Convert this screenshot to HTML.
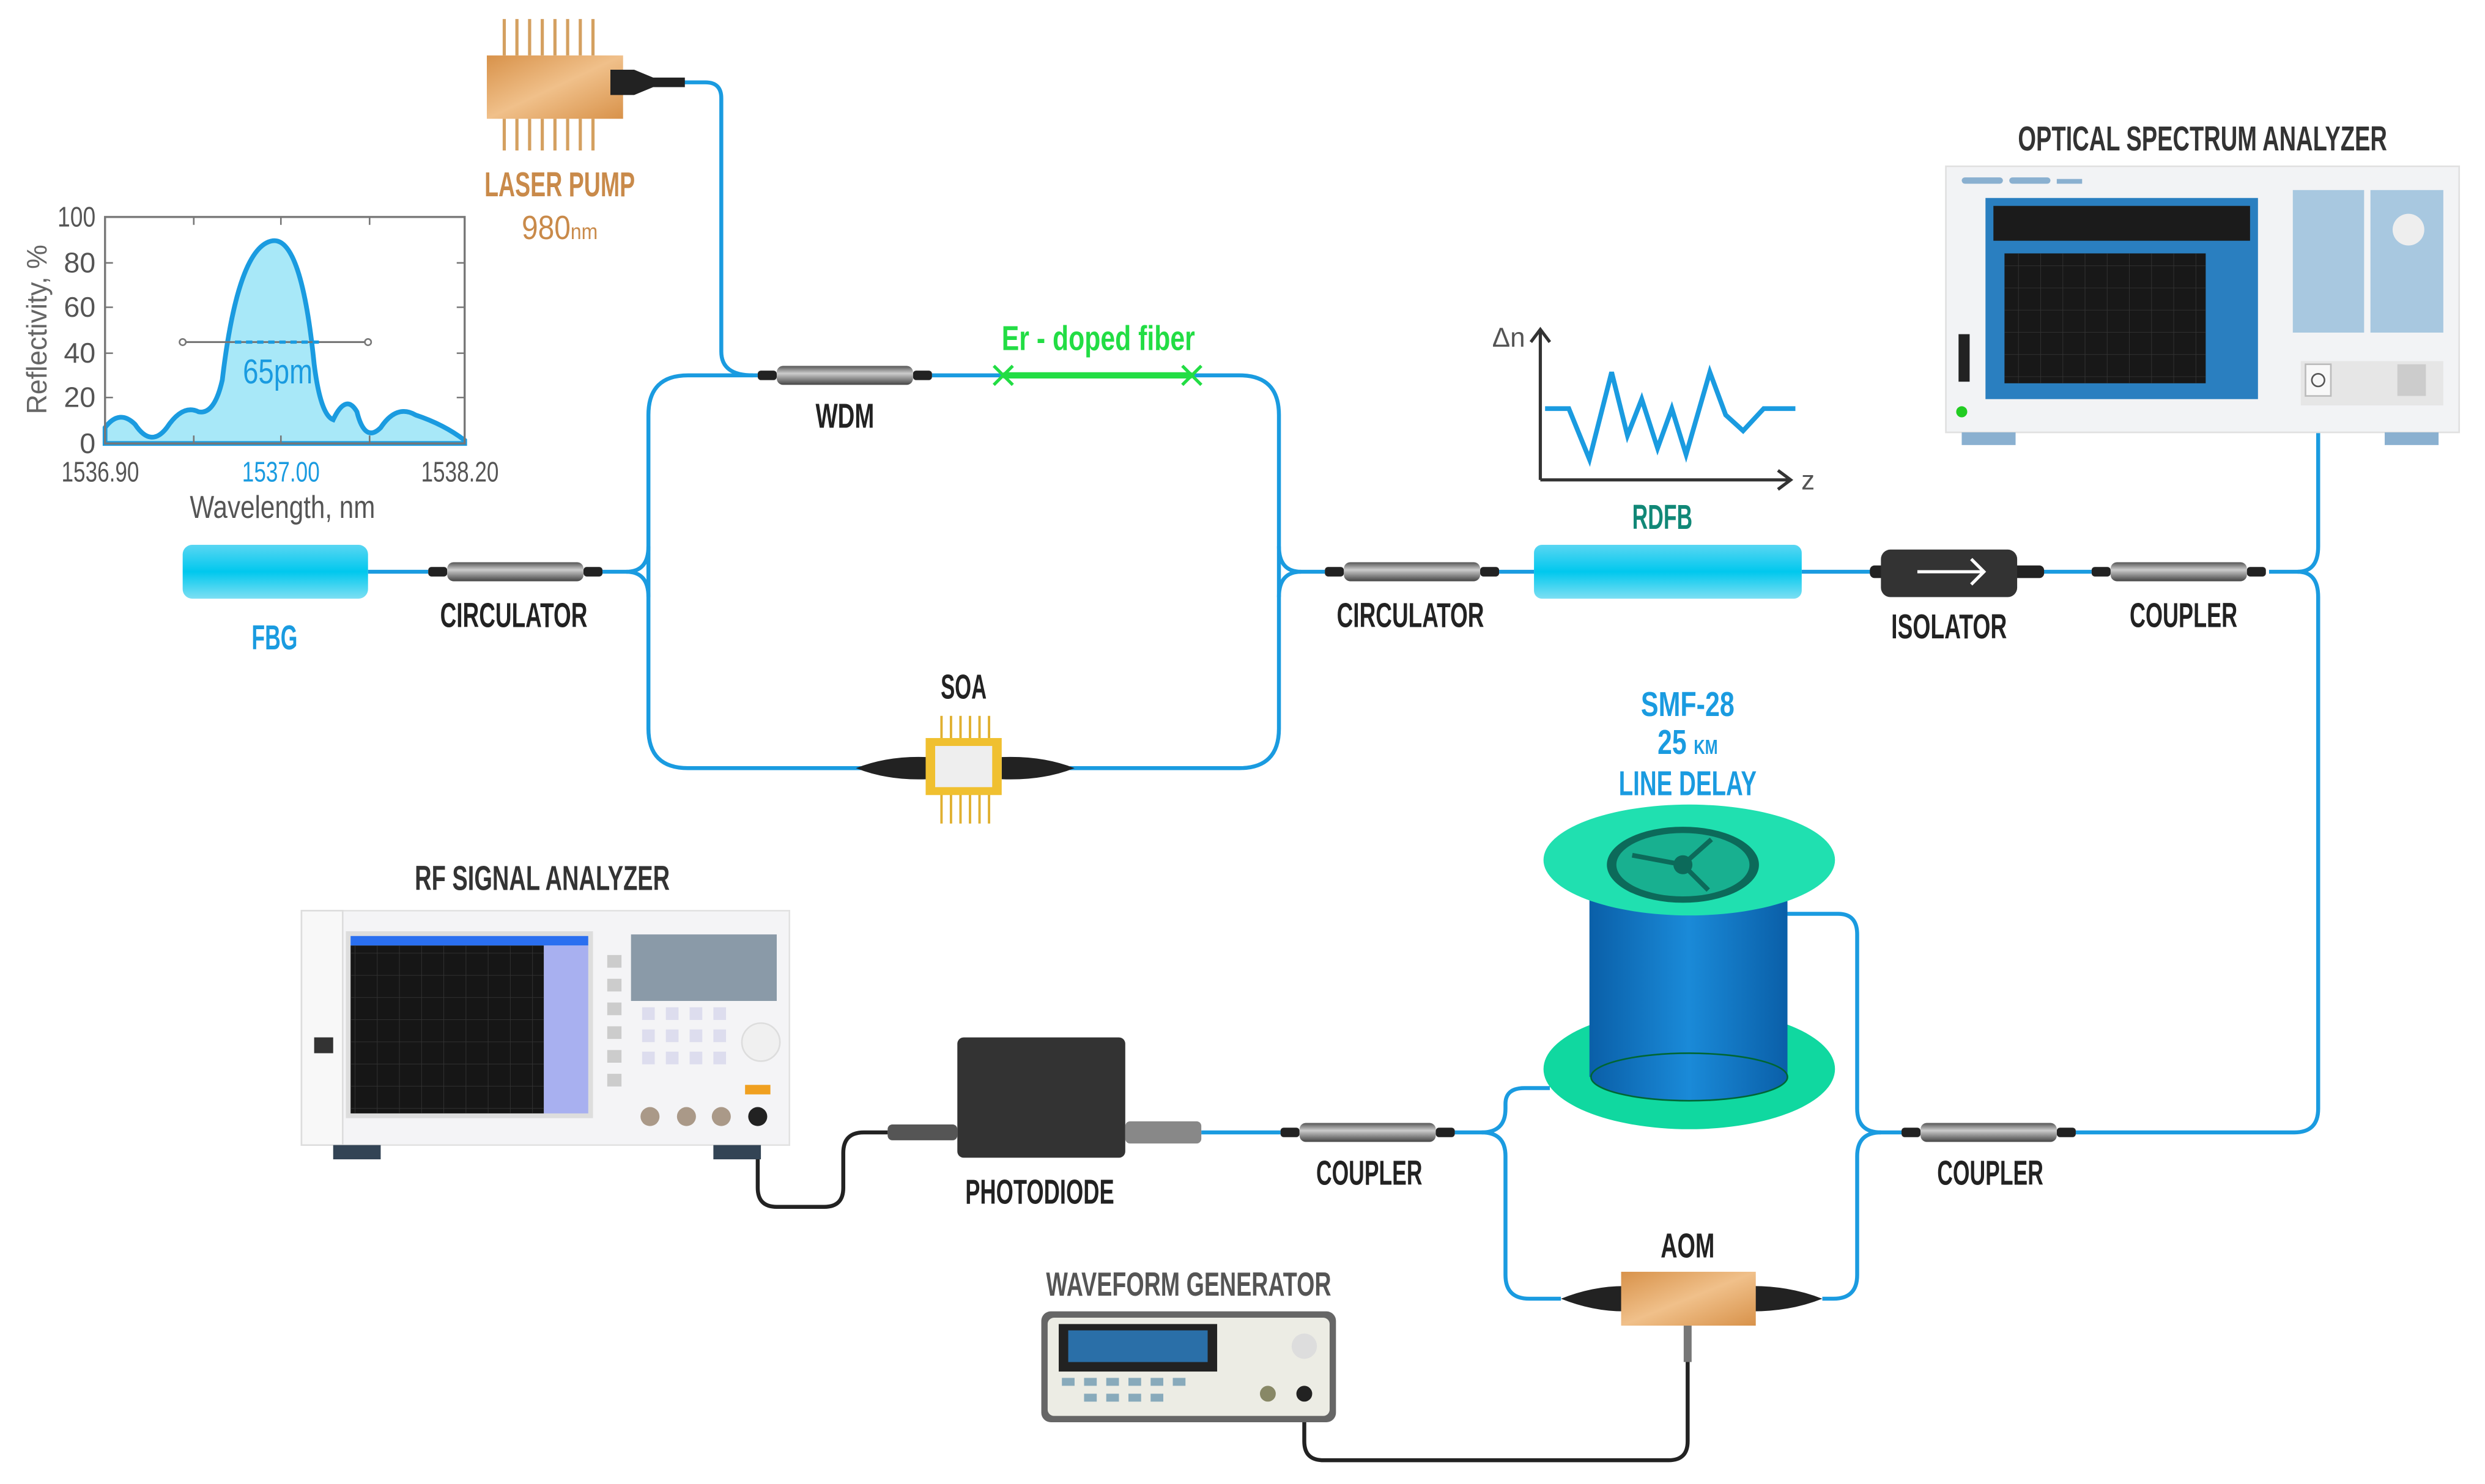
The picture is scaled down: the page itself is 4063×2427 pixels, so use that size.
<!DOCTYPE html>
<html><head><meta charset="utf-8"><style>
html,body{margin:0;padding:0;background:#fff;}
svg{display:block;}
.t{font-family:"Liberation Sans Narrow","Liberation Sans",sans-serif;font-weight:bold;text-anchor:middle;}
.n{font-family:"Liberation Sans Narrow","Liberation Sans",sans-serif;text-anchor:middle;}
</style></head><body>
<svg width="4063" height="2427" viewBox="0 0 1568 937" xmlns="http://www.w3.org/2000/svg">
<defs>
<linearGradient id="cg" x1="0" y1="0" x2="0" y2="1"><stop offset="0" stop-color="#555"/><stop offset=".4" stop-color="#ccc"/><stop offset="1" stop-color="#444"/></linearGradient>
<linearGradient id="gold" x1="0" y1="0" x2="1" y2="1"><stop offset="0" stop-color="#d8924a"/><stop offset=".5" stop-color="#f0c08a"/><stop offset="1" stop-color="#d8924a"/></linearGradient>
<linearGradient id="cyl" x1="0" y1="0" x2="0" y2="1"><stop offset="0" stop-color="#5ad6f2"/><stop offset=".5" stop-color="#00c8ee"/><stop offset="1" stop-color="#7ddff3"/></linearGradient>
<linearGradient id="spool" x1="0" y1="0" x2="1" y2="0"><stop offset="0" stop-color="#0a5fa8"/><stop offset=".5" stop-color="#1a8ad8"/><stop offset="1" stop-color="#0a5fa8"/></linearGradient>
<pattern id="grid" width="14" height="14" patternUnits="userSpaceOnUse"><path d="M14 0V14H0" fill="none" stroke="#333" stroke-width="0.7"/></pattern>
<g id="coup"><rect x="0" y="-3" width="12" height="6" rx="2" fill="#222"/><rect x="98" y="-3" width="12" height="6" rx="2" fill="#222"/><rect x="12" y="-6" width="86" height="12" rx="4" fill="url(#cg)"/></g>
</defs>
<g fill="none" stroke="#1a9be0" stroke-width="2.5">
<path d="M430 52 H445 Q455 52 455 62 V222 Q455 237 475 237"/>
<path d="M478 237 H434 Q409 237 409 262 V460 Q409 485 434 485 H545"/>
<path d="M588 237 H782 Q807 237 807 262 V460 Q807 485 782 485 H675"/>
<path d="M380 361 H395 Q409 361 409 345"/><path d="M395 361 Q409 361 409 377"/>
<path d="M232 361 H270"/>
<path d="M836 361 H821 Q807 361 807 345"/><path d="M821 361 Q807 361 807 377"/>
<path d="M946 361 H968"/><path d="M1137 361 H1187"/><path d="M1273 361 H1320"/>
<path d="M1432 361 H1450 Q1463 361 1463 345 V240"/>
<path d="M1450 361 Q1463 361 1463 377 V700 Q1463 715 1448 715 H1310"/>
<path d="M758 715 H808"/>
<path d="M918 715 H935 Q950 715 950 700 V697 Q950 687 962 687 H978"/>
<path d="M935 715 Q950 715 950 730 V805 Q950 820 965 820 H985"/>
<path d="M1128 577 H1160 Q1172 577 1172 590 V700 Q1172 715 1187 715 H1200"/>
<path d="M1187 715 Q1172 715 1172 730 V805 Q1172 820 1157 820 H1150"/>
</g>
<!-- laser pump -->
<g stroke="#d4a060" stroke-width="2"><path d="M318 12V35M326 12V35M334 12V35M342 12V35M350 12V35M358 12V35M366 12V35M374 12V35M318 75V95M326 75V95M334 75V95M342 75V95M350 75V95M358 75V95M366 75V95M374 75V95"/></g>
<rect x="307" y="35" width="86" height="40" fill="url(#gold)"/>
<path d="M385 44 H400 L412 49 H432 V55 H412 L400 60 H385Z" fill="#222"/>
<text class="t" x="353" y="124" font-size="22" fill="#c98a4a" textLength="95" lengthAdjust="spacingAndGlyphs">LASER PUMP</text>
<text class="n" x="353" y="151" font-size="21" fill="#c98a4a" textLength="48" lengthAdjust="spacingAndGlyphs">980<tspan font-size="14">nm</tspan></text>
<!-- chart -->
<path d="M66 270 Q75 258 85 268 Q95 283 105 270 Q115 255 125 260 Q135 262 140 240 Q150 155 172 152 Q190 150 198 230 Q202 262 210 265 Q218 248 225 260 Q230 280 240 270 Q250 255 262 262 Q280 268 293 278 V280 H66Z" fill="#a8e8f8" stroke="#1a9be0" stroke-width="3"/>
<rect x="66" y="137" width="227" height="143" fill="none" stroke="#777" stroke-width="1.3"/>
<g stroke="#777" stroke-width="1"><path d="M66 166h5M66 194h5M66 223h5M66 251h5M288 166h5M288 194h5M288 223h5M288 251h5M122 280v-5M177 280v-5M233 280v-5M122 137v5M177 137v5M233 137v5"/></g>
<path d="M115 216H232" stroke="#777" stroke-width="1.2"/><circle cx="115" cy="216" r="2" fill="#fff" stroke="#777"/><circle cx="232" cy="216" r="2" fill="#fff" stroke="#777"/>
<path d="M148 216H202" stroke="#1a9be0" stroke-width="2" stroke-dasharray="4 3"/>
<g class="n" font-size="18" fill="#555" lengthAdjust="spacingAndGlyphs"><text x="60" y="143" text-anchor="end" textLength="24" lengthAdjust="spacingAndGlyphs">100</text><text x="60" y="172" text-anchor="end">80</text><text x="60" y="200" text-anchor="end">60</text><text x="60" y="229" text-anchor="end">40</text><text x="60" y="257" text-anchor="end">20</text><text x="60" y="286" text-anchor="end">0</text>
<text x="63" y="304" textLength="49" lengthAdjust="spacingAndGlyphs">1536.90</text><text x="177" y="304" fill="#1a9be0" textLength="49" lengthAdjust="spacingAndGlyphs">1537.00</text><text x="290" y="304" textLength="49" lengthAdjust="spacingAndGlyphs">1538.20</text><text x="178" y="327" font-size="20" textLength="117" lengthAdjust="spacingAndGlyphs">Wavelength, nm</text></g>
<text x="29" y="208" transform="rotate(-90 29 208)" font-family="Liberation Sans,sans-serif" font-size="18" fill="#666" text-anchor="middle" textLength="107" lengthAdjust="spacingAndGlyphs">Reflectivity, %</text>
<text class="n" x="175" y="242" font-size="22" fill="#1a9be0" textLength="44" lengthAdjust="spacingAndGlyphs">65pm</text>
<!-- FBG -->
<rect x="115" y="344" width="117" height="34" rx="6" fill="url(#cyl)"/>
<text class="t" x="173" y="410" font-size="22" fill="#1a9be0" textLength="29" lengthAdjust="spacingAndGlyphs">FBG</text>
<use href="#coup" x="270" y="361"/><text class="t" x="324" y="396" font-size="22" fill="#222" textLength="93" lengthAdjust="spacingAndGlyphs">CIRCULATOR</text>
<use href="#coup" x="478" y="237"/><text class="t" x="533" y="270" font-size="22" fill="#222" textLength="37" lengthAdjust="spacingAndGlyphs">WDM</text>
<path d="M633 237H752" stroke="#22dd44" stroke-width="4"/>
<g stroke="#22dd44" stroke-width="2"><path d="M627 231l12 12M639 231l-12 12M746 231l12 12M758 231l-12 12"/></g>
<text class="n" x="693" y="221" font-size="22" fill="#22dd44" font-weight="bold" textLength="122" lengthAdjust="spacingAndGlyphs">Er - doped fiber</text>
<!-- SOA -->
<g stroke="#e0b030" stroke-width="1.5"><path d="M594 452V468M600 452V468M606 452V468M612 452V468M618 452V468M624 452V468M594 500V520M600 500V520M606 500V520M612 500V520M618 500V520M624 500V520"/></g>
<path d="M540 485 Q560 477 585 478 V492 Q560 493 540 485Z M678 485 Q658 477 632 478 V492 Q658 493 678 485Z" fill="#222"/>
<rect x="584" y="466" width="48" height="36" fill="#f0c030"/><rect x="590" y="471" width="36" height="26" fill="#eee"/>
<text class="t" x="608" y="441" font-size="22" fill="#222" textLength="29" lengthAdjust="spacingAndGlyphs">SOA</text>
<!-- right circulator, RDFB -->
<use href="#coup" x="836" y="361"/><text class="t" x="890" y="396" font-size="22" fill="#222" textLength="93" lengthAdjust="spacingAndGlyphs">CIRCULATOR</text>
<rect x="968" y="344" width="169" height="34" rx="5" fill="url(#cyl)"/>
<text class="t" x="1049" y="334" font-size="22" fill="#118877" textLength="38" lengthAdjust="spacingAndGlyphs">RDFB</text>
<path d="M972 303V208M966 216l6-8 6 8M972 303H1130M1122 297l8 6-8 6" fill="none" stroke="#333" stroke-width="2"/>
<text class="n" x="952" y="219" font-size="17" fill="#555">Δn</text><text class="n" x="1141" y="309" font-size="17" fill="#555">z</text>
<path d="M975 258H990L1003 290L1017 235L1027 275L1036 252L1046 283L1055 258L1064 287L1079 235L1089 262L1100 272L1113 258H1133" fill="none" stroke="#1a9be0" stroke-width="3"/>
<!-- isolator -->
<rect x="1180" y="357" width="110" height="8" rx="3" fill="#222"/>
<rect x="1187" y="347" width="86" height="30" rx="6" fill="#333"/>
<path d="M1210 361H1252M1244 353l8 8-8 8" stroke="#fff" stroke-width="2" fill="none"/>
<text class="t" x="1230" y="403" font-size="22" fill="#222" textLength="73" lengthAdjust="spacingAndGlyphs">ISOLATOR</text>
<use href="#coup" x="1320" y="361"/><text class="t" x="1378" y="396" font-size="22" fill="#222" textLength="68" lengthAdjust="spacingAndGlyphs">COUPLER</text>
<!-- OSA -->
<text class="t" x="1390" y="95" font-size="22" fill="#333" textLength="233" lengthAdjust="spacingAndGlyphs">OPTICAL SPECTRUM ANALYZER</text>
<rect x="1228" y="105" width="324" height="168" fill="#f2f3f5" stroke="#e0e0e0"/>
<rect x="1238" y="112" width="26" height="4" rx="2" fill="#8ab0d0"/><rect x="1268" y="112" width="26" height="4" rx="2" fill="#8ab0d0"/><rect x="1298" y="113" width="16" height="3" fill="#8ab0d0"/>
<rect x="1238" y="273" width="34" height="8" fill="#8ab0d0"/><rect x="1505" y="273" width="34" height="8" fill="#8ab0d0"/>
<rect x="1253" y="125" width="172" height="127" fill="#2a7fc0"/>
<rect x="1258" y="130" width="162" height="22" fill="#1b1b1b"/>
<rect x="1265" y="160" width="127" height="82" fill="#181818"/>
<rect x="1265" y="160" width="127" height="82" fill="url(#grid)"/>
<rect x="1447" y="120" width="45" height="90" fill="#a8c8e0"/><rect x="1496" y="120" width="46" height="90" fill="#a8c8e0"/>
<circle cx="1520" cy="145" r="10" fill="#eee"/>
<rect x="1452" y="228" width="90" height="28" fill="#e6e6e6"/>
<rect x="1455" y="230" width="16" height="20" fill="#f8f8f8" stroke="#bbb"/>
<circle cx="1463" cy="240" r="4" fill="none" stroke="#555"/>
<rect x="1513" y="230" width="18" height="20" fill="#ccc"/>
<rect x="1236" y="211" width="7" height="30" fill="#222"/>
<circle cx="1238" cy="260" r="3.5" fill="#2c2"/>
<!-- SMF spool -->
<g class="t" font-size="22" fill="#1a9be0"><text x="1065" y="452" textLength="59" lengthAdjust="spacingAndGlyphs">SMF-28</text><text x="1065" y="476" textLength="38" lengthAdjust="spacingAndGlyphs">25 <tspan font-size="13">KM</tspan></text><text x="1065" y="502" textLength="87" lengthAdjust="spacingAndGlyphs">LINE DELAY</text></g>
<ellipse cx="1066" cy="675" rx="92" ry="38" fill="#10d8a0"/>
<rect x="1003" y="560" width="125" height="120" fill="url(#spool)"/>
<ellipse cx="1066" cy="680" rx="62" ry="15" fill="url(#spool)" stroke="#063" stroke-width="1"/>
<ellipse cx="1066" cy="543" rx="92" ry="35" fill="#20e0b0"/>
<ellipse cx="1062" cy="546" rx="48" ry="24" fill="#0c6a5a"/><ellipse cx="1062" cy="546" rx="42" ry="20" fill="#18b090"/>
<path d="M1062 546L1030 540M1062 546L1080 530M1062 546L1078 562" stroke="#0c6a5a" stroke-width="3"/>
<circle cx="1062" cy="546" r="6" fill="#0c6a5a"/>
<!-- couplers bottom -->
<use href="#coup" x="808" y="715"/><text class="t" x="864" y="748" font-size="22" fill="#222" textLength="67" lengthAdjust="spacingAndGlyphs">COUPLER</text>
<use href="#coup" x="1200" y="715"/><text class="t" x="1256" y="748" font-size="22" fill="#222" textLength="67" lengthAdjust="spacingAndGlyphs">COUPLER</text>
<!-- AOM -->
<path d="M985 820 Q1005 812 1025 812 V828 Q1005 828 985 820Z M1150 820 Q1130 812 1106 812 V828 Q1130 828 1150 820Z" fill="#222"/>
<rect x="1023" y="803" width="85" height="34" fill="url(#gold)"/>
<text class="t" x="1065" y="794" font-size="22" fill="#222" textLength="34" lengthAdjust="spacingAndGlyphs">AOM</text>
<path d="M1065 837V860" stroke="#777" stroke-width="5"/>
<path d="M1065 860V910Q1065 922 1053 922H835Q823 922 823 910V880" fill="none" stroke="#222" stroke-width="2.5"/>
<!-- waveform gen -->
<text class="t" x="750" y="818" font-size="21" fill="#555" textLength="180" lengthAdjust="spacingAndGlyphs">WAVEFORM GENERATOR</text>
<rect x="657" y="828" width="186" height="70" rx="6" fill="#666"/>
<rect x="661" y="832" width="178" height="62" rx="4" fill="#ecece4"/>
<rect x="668" y="836" width="100" height="30" fill="#222"/><rect x="674" y="840" width="88" height="20" fill="#2a6fa8"/>
<g fill="#8ab"><rect x="670" y="870" width="8" height="5"/><rect x="684" y="870" width="8" height="5"/><rect x="698" y="870" width="8" height="5"/><rect x="712" y="870" width="8" height="5"/><rect x="726" y="870" width="8" height="5"/><rect x="740" y="870" width="8" height="5"/><rect x="684" y="880" width="8" height="5"/><rect x="698" y="880" width="8" height="5"/><rect x="712" y="880" width="8" height="5"/><rect x="726" y="880" width="8" height="5"/></g>
<circle cx="823" cy="850" r="8" fill="#ddd"/>
<circle cx="823" cy="880" r="5" fill="#222"/><circle cx="800" cy="880" r="5" fill="#886"/>
<!-- photodiode -->
<rect x="604" y="655" width="106" height="76" rx="4" fill="#333"/>
<rect x="710" y="708" width="48" height="14" rx="3" fill="#888"/>
<rect x="560" y="710" width="44" height="10" rx="3" fill="#555"/>
<text class="t" x="656" y="760" font-size="22" fill="#222" textLength="94" lengthAdjust="spacingAndGlyphs">PHOTODIODE</text>
<path d="M560 715H545Q532 715 532 728V750Q532 762 520 762H490Q478 762 478 750V705" fill="none" stroke="#222" stroke-width="2.5"/>
<!-- RF analyzer -->
<text class="t" x="342" y="562" font-size="22" fill="#333" textLength="161" lengthAdjust="spacingAndGlyphs">RF SIGNAL ANALYZER</text>
<rect x="190" y="575" width="308" height="148" fill="#f4f4f6" stroke="#e2e2e2"/>
<rect x="190" y="575" width="26" height="148" fill="#f8f8f8" stroke="#ddd"/>
<rect x="198" y="655" width="12" height="10" fill="#333"/>
<rect x="210" y="723" width="30" height="9" fill="#345"/><rect x="450" y="723" width="30" height="9" fill="#345"/>
<rect x="218" y="588" width="156" height="118" fill="#ddd"/>
<rect x="221" y="591" width="150" height="6" fill="#2a6ff0"/>
<rect x="221" y="597" width="122" height="106" fill="#161616"/>
<rect x="221" y="597" width="122" height="106" fill="url(#grid)"/>
<rect x="343" y="597" width="28" height="106" fill="#a8b0f0"/>
<g fill="#ccc"><rect x="383" y="603" width="9" height="8"/><rect x="383" y="618" width="9" height="8"/><rect x="383" y="633" width="9" height="8"/><rect x="383" y="648" width="9" height="8"/><rect x="383" y="663" width="9" height="8"/><rect x="383" y="678" width="9" height="8"/></g>
<rect x="398" y="590" width="92" height="42" fill="#8a9aa8"/>
<g fill="#dde"><rect x="405" y="636" width="8" height="8"/><rect x="420" y="636" width="8" height="8"/><rect x="435" y="636" width="8" height="8"/><rect x="450" y="636" width="8" height="8"/><rect x="405" y="650" width="8" height="8"/><rect x="420" y="650" width="8" height="8"/><rect x="435" y="650" width="8" height="8"/><rect x="450" y="650" width="8" height="8"/><rect x="405" y="664" width="8" height="8"/><rect x="420" y="664" width="8" height="8"/><rect x="435" y="664" width="8" height="8"/><rect x="450" y="664" width="8" height="8"/></g>
<circle cx="480" cy="658" r="12" fill="#f0f0f0" stroke="#ddd"/>
<circle cx="410" cy="705" r="6" fill="#a98"/><circle cx="433" cy="705" r="6" fill="#a98"/><circle cx="455" cy="705" r="6" fill="#a98"/><circle cx="478" cy="705" r="6" fill="#222"/>
<rect x="470" y="685" width="16" height="6" fill="#f0a020"/>
</svg>
</body></html>
